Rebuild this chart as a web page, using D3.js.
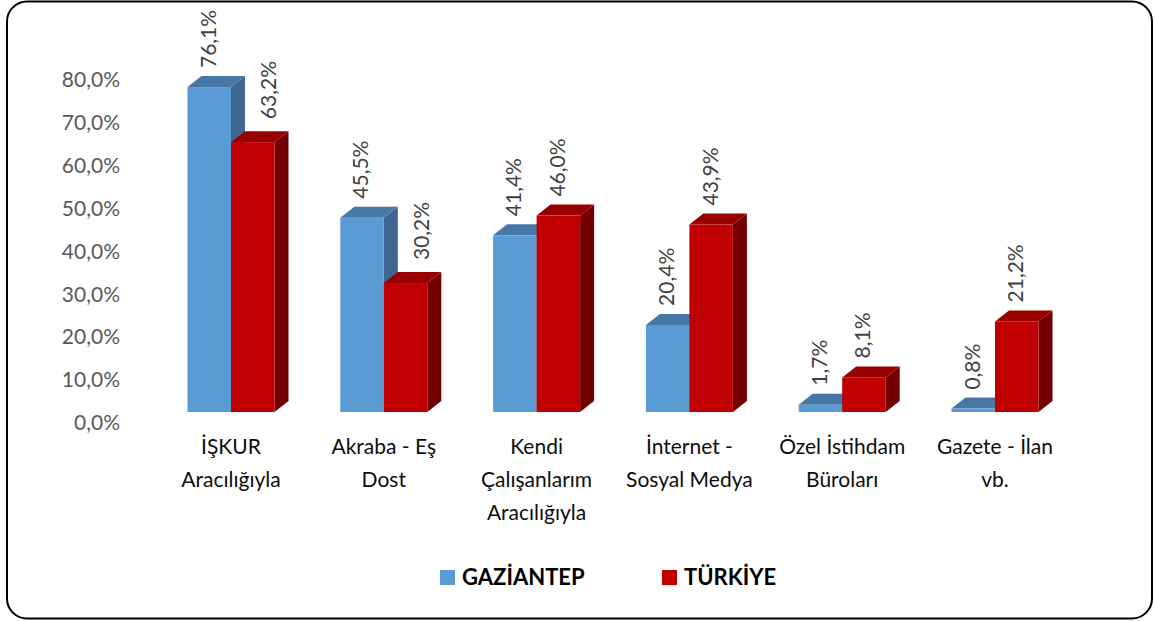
<!DOCTYPE html>
<html>
<head>
<meta charset="utf-8">
<script src="https://cdn.jsdelivr.net/npm/d3@7"></script>
<style>
  body { margin: 0; background: #fff; }
  svg { display: block; font-family: Lato, "Open Sans", sans-serif; }
</style>
</head>
<body>
<div id="chart"></div>
<script>
var categories = ["İŞKUR\nAracılığıyla", "Akraba - Eş\nDost", "Kendi\nÇalışanlarım\nAracılığıyla",
                  "İnternet -\nSosyal Medya", "Özel İstihdam\nBüroları", "Gazete - İlan\nvb."];
var series = ["GAZİANTEP", "TÜRKİYE"];
var gaziantep = [76.1, 45.5, 41.4, 20.4, 1.7, 0.8];
var turkiye = [63.2, 30.2, 46.0, 43.9, 8.1, 21.2];
var yTicks = [0, 10, 20, 30, 40, 50, 60, 70, 80];

var W = 1155, H = 621;
var depthX = 14, depthY = -11;

var colors = {
  "GAZİANTEP": {front: "#5b9bd5", top: "#4677a6", side: "#3d6690"},
  "TÜRKİYE":   {front: "#c00000", top: "#980000", side: "#720000"}
};

var svg = d3.select("#chart").append("svg")
    .attr("width", W)
    .attr("height", H);

// frame
svg.append("rect")
    .attr("x", 7).attr("y", 1.5)
    .attr("width", 1145).attr("height", 617)
    .attr("rx", 20).attr("ry", 20)
    .attr("fill", "#fff")
    .attr("stroke", "#000")
    .attr("stroke-width", 2);

var x0 = d3.scalePoint().domain(categories).range([231, 995]);
var x1 = d3.scaleBand().domain(series).range([-43.5, 43.5]);
var y = d3.scaleLinear().domain([0, 80]).range([412, 70.4]);
var yLab = d3.scaleLinear().domain([0, 80]).range([423, 80]);

// y axis labels (no line)
var yAxis = d3.axisLeft(yLab)
    .tickValues(yTicks)
    .tickSize(0)
    .tickPadding(0)
    .tickFormat(function(d) { return d3.format(".1f")(d).replace(".", ",") + "%"; });

var gy = svg.append("g")
    .attr("transform", "translate(120,0)")
    .call(yAxis);
gy.select(".domain").remove();
gy.selectAll("text")
    .attr("fill", "#595959")
    .style("font-size", "21px")
    .style("font-family", "Lato, sans-serif");

// bars
var data = [];
categories.forEach(function(c, i) {
  data.push({cat: c, s: series[0], v: gaziantep[i], other: turkiye[i], idx: 0});
  data.push({cat: c, s: series[1], v: turkiye[i], other: gaziantep[i], idx: 1});
});

var bars = svg.append("g").selectAll("g")
  .data(data)
  .enter().append("g");

bars.each(function(d) {
  var g = d3.select(this);
  var xl = x0(d.cat) + x1(d.s), xr = xl + x1.bandwidth();
  var yt = y(d.v), yb = y(0);
  var c = colors[d.s];
  // side face
  g.append("path")
    .attr("d", "M" + xr + "," + yt + "L" + (xr + depthX) + "," + (yt + depthY) +
               "L" + (xr + depthX) + "," + (yb + depthY) + "L" + xr + "," + yb + "Z")
    .attr("fill", c.side);
  // top face
  g.append("path")
    .attr("d", "M" + xl + "," + yt + "L" + (xl + depthX) + "," + (yt + depthY) +
               "L" + (xr + depthX) + "," + (yt + depthY) + "L" + xr + "," + yt + "Z")
    .attr("fill", c.top);
  // front face
  g.append("rect")
    .attr("x", xl).attr("y", yt)
    .attr("width", xr - xl).attr("height", yb - yt)
    .attr("fill", c.front);
});

// value labels
bars.append("text")
    .attr("transform", function(d) {
      var cx = x0(d.cat) + x1(d.s) + x1.bandwidth() / 2 - 1;
      var ty = y(d.v) + depthY - 8;
      // second series label pushed aside when it sits below the taller first bar
      if (d.idx === 1 && d.other > d.v) { cx += 17; ty -= 4; }
      return "translate(" + cx + "," + ty + ") rotate(-90)";
    })
    .attr("dy", "0.35em")
    .attr("text-anchor", "start")
    .attr("fill", "#404040")
    .style("font-size", "21px")
    .text(function(d) { return d3.format(".1f")(d.v).replace(".", ",") + "%"; });

// category labels
var cl = svg.append("g").selectAll("text")
  .data(categories)
  .enter().append("text")
    .attr("x", function(d) { return x0(d); })
    .attr("y", 454)
    .attr("text-anchor", "middle")
    .attr("fill", "#0d0d0d")
    .style("font-size", "21px");

cl.selectAll("tspan")
  .data(function(d) { return d.split("\n"); })
  .enter().append("tspan")
    .attr("x", function() { return x0(this.parentNode.__data__); })
    .attr("dy", function(d, i) { return i === 0 ? 0 : 33; })
    .text(function(d) { return d; });

// legend
var legendX = [440, 662];
var lg = svg.append("g").selectAll("g")
  .data(series)
  .enter().append("g")
    .attr("transform", function(d, i) { return "translate(" + legendX[i] + ",570)"; });

lg.append("rect")
    .attr("width", 15).attr("height", 15)
    .attr("fill", function(d) { return colors[d].front; });

lg.append("text")
    .attr("x", 22).attr("y", 7.5)
    .attr("dy", "0.35em")
    .attr("fill", "#000")
    .style("font-size", "22px")
    .style("font-weight", "bold")
    .text(function(d) { return d; });
</script>
</body>
</html>
